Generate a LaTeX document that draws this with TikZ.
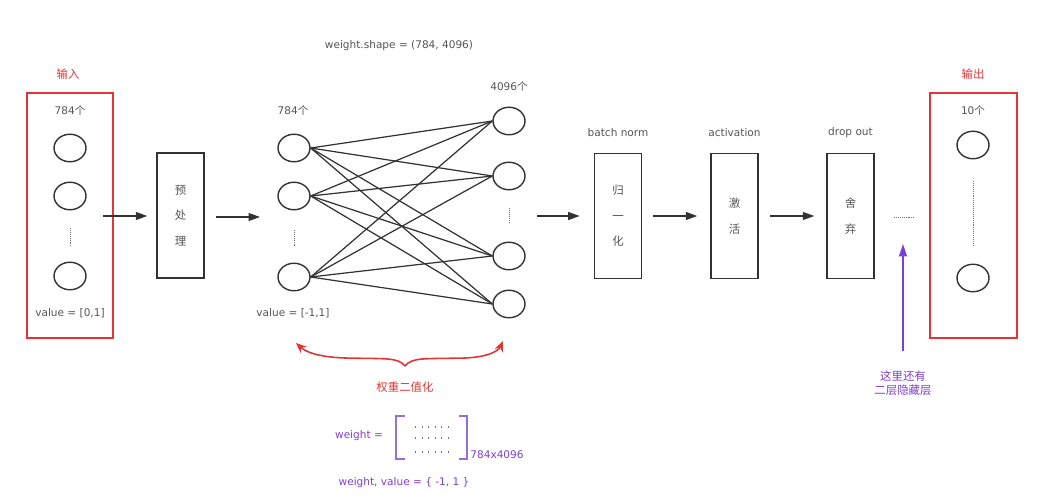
\documentclass[tikz,border=0pt]{standalone}
\usepackage{fontspec}
\setmainfont{DejaVu Sans}
\newfontfamily\cjk{Noto Sans CJK SC}
\usetikzlibrary{arrows.meta,shapes.geometric}
\definecolor{txt}{RGB}{85,85,85}
\definecolor{ln}{RGB}{50,50,50}
\definecolor{myred}{RGB}{228,52,52}
\definecolor{mypurple}{RGB}{125,62,210}
\definecolor{brpurple}{RGB}{150,110,215}
\begin{document}
\begin{tikzpicture}[x=0.02cm,y=-0.02cm,
  lbl/.style={font=\fontsize{6}{7}\selectfont, text=txt, inner sep=0},
  cjklbl/.style={font=\cjk\fontsize{6.5}{7}\selectfont, inner sep=0},
  neuron/.style={draw=ln, line width=0.8pt, ellipse, minimum width=0.64cm, minimum height=0.55cm, inner sep=0},
  procbox/.style={draw=ln, line width=0.9pt, minimum width=0.94cm, minimum height=2.5cm, inner sep=0,
     font=\cjk\fontsize{6.5}{14.5}\selectfont, text=txt, align=center},
  redbox/.style={draw=myred, line width=0.9pt, minimum width=1.72cm, minimum height=4.9cm, inner sep=0},
  flow/.style={ln, line width=0.8pt, -{Triangle[length=6.5pt,width=4.5pt]}},
  conn/.style={ln, line width=0.7pt},
  vdots/.style={txt!80, line width=0.5pt, dash pattern=on 0.5pt off 0.6pt},
  matdots/.style={txt!80, line width=0.6pt, dash pattern=on 0.4pt off 3.3pt},
  bracket/.style={brpurple, line width=0.9pt},
]
\useasboundingbox (0,0) rectangle (1038,500);

% title
\node[lbl] (title) at (399,46) {weight.shape = (784, 4096)};

% input layer
\node[cjklbl, text=myred] (inlbl) at (68,74) {输入};
\node[redbox] (inbox) at (70,215.5) {};
\node[lbl] (incnt) at (70,110) {784{\cjk 个}};
\node[neuron] (i1) at (70,148) {};
\node[neuron] (i2) at (70,196) {};
\node[neuron] (i3) at (70,276) {};
\coordinate (id1) at (70,228); \coordinate (id2) at (70,246);
\draw[vdots] (id1) -- (id2);
\node[lbl] (inval) at (70,313) {value = [0,1]};

% preprocess
\node[procbox] (pre) at (180.5,215.5) {预\\处\\理};
\coordinate (s1) at (103,216);
\draw[flow, shorten >=5.1pt] (s1) -- (pre.west |- s1);
\coordinate (e2) at (260,217);
\draw[flow, shorten <=6.2pt] (pre.east |- e2) -- (e2);

% layer 1
\node[lbl] (acnt) at (293,110) {784{\cjk 个}};
\node[neuron] (a1) at (294,148) {};
\node[neuron] (a2) at (294,196) {};
\node[neuron] (a3) at (294,277) {};
\coordinate (ad1) at (294,230); \coordinate (ad2) at (294,246);
\draw[vdots] (ad1) -- (ad2);
\node[lbl] (aval) at (293,313) {value = [-1,1]};

% layer 2
\node[lbl] (bcnt) at (509,86) {4096{\cjk 个}};
\node[neuron] (b1) at (509,121) {};
\node[neuron] (b2) at (509,176) {};
\node[neuron] (b3) at (509,256) {};
\node[neuron] (b4) at (509,304) {};
\coordinate (bd1) at (509,208); \coordinate (bd2) at (509,223);
\draw[vdots] (bd1) -- (bd2);

\foreach \i in {1,2,3}
  \foreach \j in {1,2,3,4}
    \draw[conn] (a\i.east) -- (b\j.west);

% batch norm
\node[procbox] (bn) at (618,216) {归\\一\\化};
\node[lbl] (bnlbl) at (618,133) {batch norm};
\coordinate (s3) at (537,216);
\draw[flow, shorten >=8pt] (s3) -- (bn.west |- s3);

% activation
\node[procbox] (act) at (734.5,216) {激\\活};
\node[lbl] (actlbl) at (734.5,133) {activation};
\draw[flow, shorten <=6.2pt, shorten >=7.4pt] (bn.east) -- (act.west);

% dropout
\node[procbox] (drop) at (850.5,216) {舍\\弃};
\node[lbl] (droplbl) at (850.5,133) {drop out};
\draw[flow, shorten <=6.2pt, shorten >=6.8pt] (act.east) -- (drop.west);

% hidden dots
\coordinate (hd1) at (894,217); \coordinate (hd2) at (914,217);
\draw[vdots] (hd1) -- (hd2);

% purple arrow
\coordinate (pb) at (903,351); \coordinate (pt) at (903,244);
\draw[mypurple, line width=0.9pt, -{Triangle[length=7pt,width=4.5pt]}] (pb) -- (pt);
\node[cjklbl, text=mypurple, align=center, font=\cjk\fontsize{6.5}{7.6}\selectfont] (hidtxt) at (903,383) {这里还有\\二层隐藏层};

% output layer
\node[cjklbl, text=myred] (outlbl) at (973,74) {输出};
\node[redbox, minimum width=1.74cm] (outbox) at (973.5,215.5) {};
\node[lbl] (ocnt) at (973,110) {10{\cjk 个}};
\node[neuron] (o1) at (973,145) {};
\node[neuron] (o2) at (973,278) {};
\coordinate (od1) at (973,181); \coordinate (od2) at (973,246);
\draw[vdots] (od1) -- (od2);

% red brace arrows
\coordinate (bc) at (405,366);
\coordinate (bl) at (296,343);
\coordinate (br) at (503,341);
\draw[myred, line width=0.9pt, -{Stealth[length=6pt,width=5pt]}]
  (bc) .. controls (398,357) and (385,359) .. (345,358) .. controls (318,357) and (306,352) .. (bl);
\draw[myred, line width=0.9pt, -{Stealth[length=6pt,width=5pt]}]
  (bc) .. controls (412,357) and (425,359) .. (465,358) .. controls (490,357) and (499,350) .. (br);
\node[cjklbl, text=myred] (bintxt) at (405,387) {权重二值化};

% weight matrix
\node[lbl, text=mypurple] (wlbl) at (359,436) {weight =};
\coordinate (lb1) at (405,416); \coordinate (lb2) at (396,416);
\coordinate (lb3) at (396,459); \coordinate (lb4) at (405,459);
\draw[bracket] (lb1) -- (lb2) -- (lb3) -- (lb4);
\coordinate (rb1) at (459,416); \coordinate (rb2) at (467,416);
\coordinate (rb3) at (467,459); \coordinate (rb4) at (459,459);
\draw[bracket] (rb1) -- (rb2) -- (rb3) -- (rb4);
\foreach \y in {427,438,452}
  \draw[matdots] (415,\y) -- (450,\y);
\node[lbl, text=mypurple] (wdim) at (497,455) {784x4096};
\node[lbl, text=mypurple] (wval) at (404,483) {weight, value = \{ -1, 1 \}};
\end{tikzpicture}
\end{document}
